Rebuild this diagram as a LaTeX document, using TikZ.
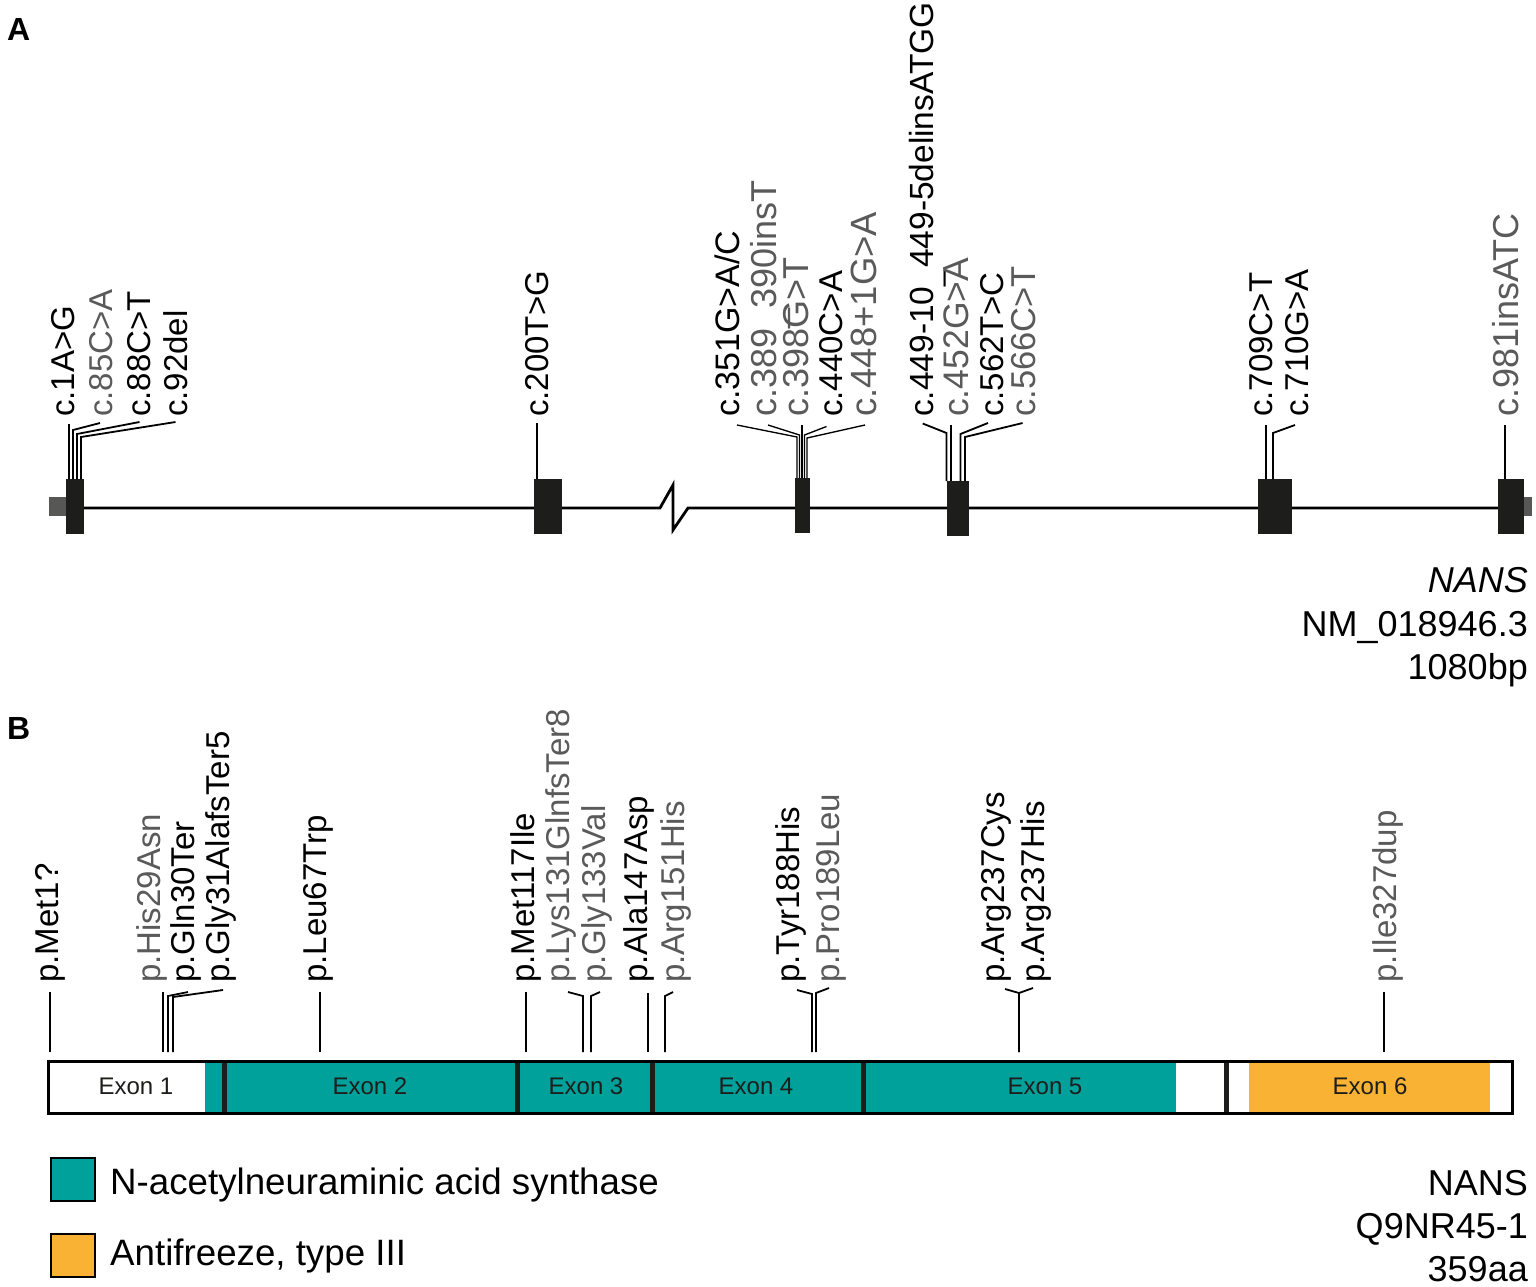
\documentclass[tikz,border=0pt]{standalone}
\usepackage{fontspec}
\setmainfont{Liberation Sans}
\definecolor{labgray}{HTML}{5A5A5A}
\definecolor{exonblk}{HTML}{1D1D1B}
\definecolor{utrgray}{HTML}{575756}
\definecolor{tealc}{HTML}{00A19A}
\definecolor{orangec}{HTML}{F9B234}
\newcommand{\labfont}{\fontsize{33}{40}\selectfont}
\newcommand{\bigfont}{\fontsize{36}{43}\selectfont}
\newcommand{\us}{\raisebox{-0.2em}{\_}}
\newcommand{\lead}[6]{%
  \coordinate (#1t) at (#2,#3);
  \coordinate (#1f) at (#4,#6);
  \draw[leader] (#1t) -- (#4,#5) -- (#1f);}
\begin{document}
\begin{tikzpicture}[x=1pt,y=-1pt,
  lab/.style={rotate=90, anchor=base west, inner sep=0pt, font=\labfont},
  blab/.style={lab, text=black},
  glab/.style={lab, text=labgray},
  fsz/.style={font=\fontsize{#1}{40}\selectfont},
  leader/.style={line width=1.8pt, black, line join=miter},
  thinlead/.style={line width=1.35pt},
  exbox/.style={fill=exonblk, draw=none, inner sep=0pt, anchor=north west},
  sep/.style={line width=4.5pt, exonblk},
  exlab/.style={font=\fontsize{24}{28}\selectfont, text=exonblk, inner sep=0pt},
  big/.style={font=\bigfont, inner sep=0pt},
  leg/.style={font=\fontsize{36.7}{43}\selectfont, inner sep=0pt, anchor=base west},
  panel/.style={font=\fontsize{32}{38}\selectfont\bfseries, inner sep=0pt, anchor=base west}]
\useasboundingbox (0,0) rectangle (1536,1286);
\fill[white] (0,0) rectangle (1536,1286);

% ---------------- Panel A ----------------
\node[panel] (pA) at (7,40) {A};

\fill[utrgray] (49,497) rectangle (67,516);
\fill[utrgray] (1524,497) rectangle (1532,516);
\draw[line width=2.8pt] (67,508) -- (660,508) -- (673,485) -- (673,530) -- (688,508) -- (1500,508);

\node[exbox, minimum width=18pt, minimum height=55pt] (ex1) at (66,479) {};
\node[exbox, minimum width=28pt, minimum height=55pt] (ex2) at (534,479) {};
\node[exbox, minimum width=15pt, minimum height=55pt] (ex3) at (795,478) {};
\node[exbox, minimum width=22pt, minimum height=55pt] (ex4) at (947,481) {};
\node[exbox, minimum width=34pt, minimum height=55pt] (ex5) at (1258,479) {};
\node[exbox, minimum width=26pt, minimum height=55pt] (ex6) at (1498,479) {};

\node[blab] (a1) at (74,417) {c.1A>G};
\node[glab] (a2) at (112,417) {c.85C>A};
\node[blab] (a3) at (150,417) {c.88C>T};
\node[blab] (a4) at (187,417) {c.92del};
\node[blab] (a5) at (548,417) {c.200T>G};
\node[blab, fsz=34] (a6) at (739,417) {c.351G>A/C};
\node[glab, fsz=36] (a7) at (776,417) {c.389\us390insT};
\node[glab, fsz=36] (a8) at (808,417) {c.398G>T};
\node[blab] (a9) at (842,417) {c.440C>A};
\node[glab, fsz=36.5] (a10) at (876,417) {c.448+1G>A};
\node[blab, fsz=33.5] (a11) at (933,417) {c.449-10\us449-5delinsATGG};
\node[glab, fsz=35.5] (a12) at (968,417) {c.452G>A};
\node[blab] (a13) at (1003,417) {c.562T>C};
\node[glab, fsz=34.5] (a14) at (1035,417) {c.566C>T};
\node[blab] (a15) at (1272,417) {c.709C>T};
\node[blab] (a16) at (1308,417) {c.710G>A};
\node[glab, fsz=36] (a17) at (1518,417) {c.981insATC};

\lead{la1}{69}{424}{69}{424}{479}
\lead{la2}{100}{423}{73}{430}{479}
\lead{la3}{139.5}{422}{77}{434}{479}
\lead{la4}{175.5}{422}{81}{437}{479}
\lead{la5}{537}{423}{537}{423}{479}
\begin{scope}[leader/.append style={thinlead}]
\lead{la6}{737}{425}{797}{437}{478}
\lead{la7}{768}{425}{799.5}{435}{478}
\lead{la8}{802}{425}{802}{425}{478}
\lead{la9}{826.5}{426.5}{804.5}{435}{478}
\lead{la10}{865}{425}{807}{438}{478}
\end{scope}
\lead{la11}{922.7}{423.5}{946.5}{433}{481}
\lead{la12}{951}{425}{951}{425}{481}
\lead{la13}{988}{423}{960.5}{434}{481}
\lead{la14}{1022.6}{423}{965}{437}{481}
\lead{la15}{1266}{425}{1266}{425}{479}
\lead{la16}{1295}{425}{1273}{433}{479}
\lead{la17}{1505}{425}{1505}{425}{479}

\node[big, anchor=base east] (gA1) at (1528,592) {\itshape NANS};
\node[big, anchor=base east] (gA2) at (1528,636) {NM\_018946.3};
\node[big, anchor=base east] (gA3) at (1528,679) {1080bp};

% ---------------- Panel B ----------------
\node[panel] (pB) at (7,739) {B};

\fill[white] (47,1060) rectangle (1511,1112);
\fill[tealc] (205,1060) rectangle (1176,1112);
\fill[orangec] (1249,1060) rectangle (1490,1112);
\draw[sep] (224.5,1060) -- (224.5,1112);
\draw[sep] (517.5,1060) -- (517.5,1112);
\draw[sep] (652.5,1060) -- (652.5,1112);
\draw[sep] (863.5,1060) -- (863.5,1112);
\draw[sep] (1226.5,1060) -- (1226.5,1112);
\node[draw, line width=3pt, inner sep=0pt, minimum width=1464pt, minimum height=52pt, anchor=north west] (bar) at (47,1060) {};

\node[exlab] (x1) at (136,1086) {Exon 1};
\node[exlab] (x2) at (370,1086) {Exon 2};
\node[exlab] (x3) at (586,1086) {Exon 3};
\node[exlab] (x4) at (756,1086) {Exon 4};
\node[exlab] (x5) at (1045,1086) {Exon 5};
\node[exlab] (x6) at (1370,1086) {Exon 6};

\node[blab] (b1) at (58,983) {p.Met1?};
\node[glab] (b2) at (160,983) {p.His29Asn};
\node[blab] (b3) at (194,983) {p.Gln30Ter};
\node[blab] (b4) at (229,983) {p.Gly31AlafsTer5};
\node[blab] (b5) at (326,983) {p.Leu67Trp};
\node[blab] (b6) at (534,983) {p.Met117Ile};
\node[glab] (b7) at (569,983) {p.Lys131GlnfsTer8};
\node[glab] (b8) at (605,983) {p.Gly133Val};
\node[blab] (b9) at (647,983) {p.Ala147Asp};
\node[glab] (b10) at (684,983) {p.Arg151His};
\node[blab] (b11) at (799,983) {p.Tyr188His};
\node[glab] (b12) at (839,983) {p.Pro189Leu};
\node[blab] (b13) at (1004,983) {p.Arg237Cys};
\node[blab] (b14) at (1044,983) {p.Arg237His};
\node[glab] (b15) at (1396,983) {p.Ile327dup};

\lead{lb1}{50}{992}{50}{992}{1052}
\lead{lb2}{163}{992}{163}{992}{1052}
\lead{lb3}{188}{992}{168}{996}{1052}
\lead{lb4}{223}{990}{173}{997}{1052}
\lead{lb5}{320}{992}{320}{992}{1052}
\lead{lb6}{526}{992}{526}{992}{1052}
\lead{lb7}{568}{992}{583}{996}{1052}
\lead{lb8}{600}{992}{591}{996}{1052}
\lead{lb9}{648}{993}{648}{993}{1052}
\lead{lb10}{673}{992}{665}{996}{1052}
\lead{lb11}{797}{990}{812}{994}{1052}
\lead{lb12}{829}{988}{816}{993}{1052}
\lead{lb13}{1005}{989}{1019}{993}{1052}
\lead{lb14}{1033}{988}{1019}{993}{1052}
\lead{lb15}{1384}{992}{1384}{992}{1052}

% legend
\node[draw, line width=1.5pt, fill=tealc, inner sep=0pt, minimum width=44pt, minimum height=43pt, anchor=north west] (legT) at (50,1157) {};
\node[leg] (legTt) at (110,1194) {N-acetylneuraminic acid synthase};
\node[draw, line width=1.5pt, fill=orangec, inner sep=0pt, minimum width=44pt, minimum height=43pt, anchor=north west] (legO) at (50,1233) {};
\node[leg] (legOt) at (110,1265) {Antifreeze, type III};

\node[big, anchor=base east] (gB1) at (1528,1195) {NANS};
\node[big, anchor=base east] (gB2) at (1528,1238) {Q9NR45-1};
\node[big, anchor=base east] (gB3) at (1528,1281) {359aa};
\end{tikzpicture}
\end{document}
